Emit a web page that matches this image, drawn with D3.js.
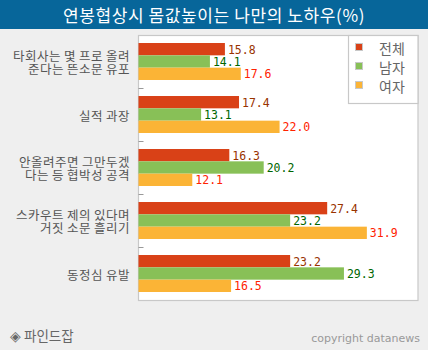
<!DOCTYPE html>
<html>
<head>
<meta charset="utf-8">
<script src="https://cdn.jsdelivr.net/npm/d3@7"></script>
<style>
  @font-face {
    font-family: "KRTight";
    src: local("Noto Sans CJK KR"), local("Noto Sans CJK KR Regular"), local("NotoSansCJKkr-Regular");
    ascent-override: 88%;
    descent-override: 12%;
    line-gap-override: 0%;
  }
  html, body { margin: 0; padding: 0; background: #efefef; }
  svg { display: block; }
</style>
</head>
<body>
<svg id="chart" width="428" height="350"></svg>
<script>
const title = "연봉협상시 몸값높이는 나만의 노하우(%)";
const categories = [
  "타회사는 몇 프로 올려\n준다는 뜬소문 유포",
  "실적 과장",
  "안올려주면 그만두겠\n다는 등 협박성 공격",
  "스카우트 제의 있다며\n거짓 소문 흘리기",
  "동정심 유발"
];
const seriesNames = ["전체", "남자", "여자"];
const totalValues = [15.8, 17.4, 16.3, 27.4, 23.2];
const maleValues = [14.1, 13.1, 20.2, 23.2, 29.3];
const femaleValues = [17.6, 22.0, 12.1, 31.9, 16.5];
const seriesValues = [totalValues, maleValues, femaleValues];
const barColors = ["#d94117", "#88c057", "#fbb436"];
const labelColors = ["#993300", "#006600", "#ff2200"];
const source = "◈ 파인드잡";
const copyright = "copyright datanews";

const svg = d3.select("#chart");
const W = 428, H = 350;

svg.append("rect").attr("width", W).attr("height", H).attr("fill", "#efefef");

// title bar
svg.append("rect").attr("x", 0).attr("y", 0).attr("width", W).attr("height", 29).attr("fill", "#07669a");
svg.append("text").attr("x", W / 2).attr("y", 14.5)
  .attr("text-anchor", "middle").attr("dominant-baseline", "central")
  .attr("fill", "#ffffff").attr("font-family", "'Noto Sans CJK KR', sans-serif")
  .attr("font-size", 17).attr("letter-spacing", 0.6).text(title);

const plot = { left: 138.5, top: 35.5, right: 418, bottom: 300.5 };

svg.append("rect").attr("x", plot.left).attr("y", plot.top)
  .attr("width", plot.right - plot.left).attr("height", plot.bottom - plot.top)
  .attr("fill", "#ffffff").attr("stroke", "#c8c8c8").attr("stroke-width", 1.2);

const x = d3.scaleLinear().domain([6, 37.7]).range([plot.left, plot.right]);
const y0 = d3.scaleBand().domain(d3.range(categories.length)).range([plot.top - 0.5, plot.bottom - 0.5]);
const y1 = d3.scaleBand().domain(d3.range(seriesNames.length)).range([0, y0.bandwidth()]).paddingOuter(0.65);

// group boundary ticks
const boundaries = d3.range(1, categories.length).map(i => y0(i));
svg.append("g").selectAll("line").data(boundaries).join("line")
  .attr("x1", plot.left).attr("x2", plot.left + 5)
  .attr("y1", d => Math.round(d) + 0.5).attr("y2", d => Math.round(d) + 0.5)
  .attr("stroke", "#999").attr("stroke-width", 1);

// bars
const groups = svg.append("g").selectAll("g").data(categories).join("g")
  .attr("transform", (d, i) => `translate(0,${y0(i)})`);

groups.each(function (cat, ci) {
  const g = d3.select(this);
  seriesValues.forEach((vals, si) => {
    const v = vals[ci];
    g.append("rect")
      .attr("x", x.range()[0])
      .attr("y", y1(si))
      .attr("width", x(v) - x.range()[0])
      .attr("height", y1.bandwidth())
      .attr("fill", barColors[si]);
    g.append("text")
      .attr("x", x(v) + 3)
      .attr("y", y1(si) + y1.bandwidth() / 2 + 0.5)
      .attr("dominant-baseline", "central")
      .attr("font-family", "'DejaVu Sans Mono', monospace")
      .attr("font-size", 11.5)
      .attr("fill", labelColors[si])
      .text(v.toFixed(1));
  });
});

// category labels
categories.forEach((cat, ci) => {
  const lines = cat.split("\n");
  const cy = y0(ci) + y0.bandwidth() / 2;
  const lh = 12.5;
  lines.forEach((ln, li) => {
    svg.append("text")
      .attr("text-anchor", "end")
      .attr("font-family", "KRTight, 'Noto Sans CJK KR', sans-serif")
      .attr("font-size", 12.5)
      .attr("fill", "#555555")
      .attr("x", 130)
      .attr("y", cy + (li - (lines.length - 1) / 2) * lh + 1.5)
      .attr("dominant-baseline", "central")
      .text(ln);
  });
});

// legend
svg.append("rect").attr("x", 348.5).attr("y", plot.top).attr("width", plot.right - 348.5).attr("height", 68)
  .attr("fill", "#ffffff").attr("stroke", "#c8c8c8").attr("stroke-width", 1.2);
const legend = svg.append("g").selectAll("g").data(seriesNames).join("g")
  .attr("transform", (d, i) => `translate(355.5,${43.5 + i * 19})`);
legend.append("rect").attr("width", 7).attr("height", 7)
  .attr("fill", (d, i) => barColors[i]).attr("stroke", "#c8c8c8").attr("stroke-width", 1);
legend.append("text").attr("x", 23.5).attr("y", 4)
  .attr("dominant-baseline", "central")
  .attr("font-family", "'Noto Sans CJK KR', sans-serif")
  .attr("font-size", 14).attr("fill", "#666666")
  .text(d => d);

// footer
svg.append("text").attr("x", 10).attr("y", 335)
  .attr("dominant-baseline", "central")
  .attr("font-family", "'Noto Sans CJK KR', sans-serif")
  .attr("font-size", 13.5).attr("fill", "#666666").text(source);
svg.append("text").attr("x", 420).attr("y", 338)
  .attr("text-anchor", "end").attr("dominant-baseline", "central")
  .attr("font-family", "'DejaVu Sans', Verdana, sans-serif")
  .attr("font-size", 11).attr("fill", "#999999").text(copyright);
</script>
</body>
</html>
